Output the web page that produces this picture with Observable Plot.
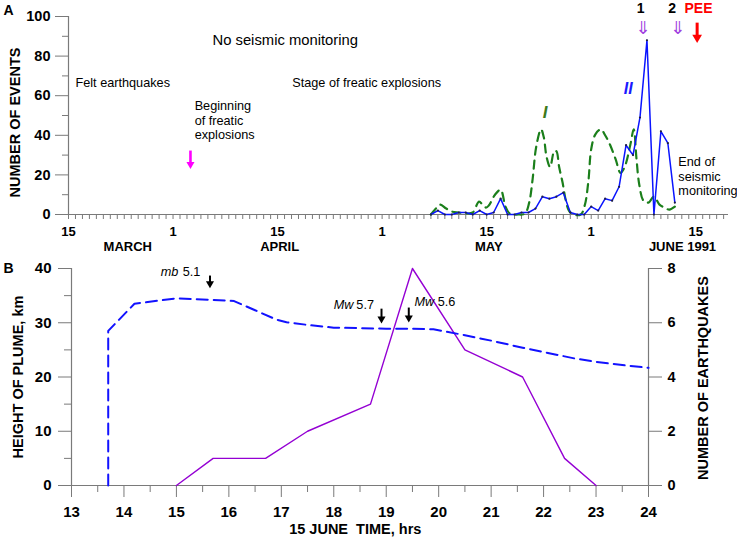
<!DOCTYPE html>
<html><head><meta charset="utf-8">
<script src="https://cdn.jsdelivr.net/npm/d3@7"></script>
<script src="https://cdn.jsdelivr.net/npm/@observablehq/plot@0.6"></script>
<style>
html,body{margin:0;padding:0;background:#fff;}
#chart{width:737px;height:538px;overflow:hidden;}
#chart svg{display:block;}
</style></head><body><div id="chart"></div>
<script>
const FONT = "'Liberation Sans', Arial, Helvetica, sans-serif";
const AX = "#7a7a7a";

// ===== Panel A data: x = days after 15 March 1991 (axis marked every 15 days) =====
const eventDays = [52,53,54,55,56,57,58,59,60,61,62,63,64,65,66,67,68,69,70,71,72,73,74,75,76,77,78,79,80,81,82,83,84,85,86,87];
const eventsII  = [0,2,0,0,1,1,0,2,0,1,8,0,0,1,1,3,9,8,9,11,1,0,0,4,2,8,7,14,35,30,49,88,0,42,36,6];
const curveIx = [52,52.6,53.3,54.2,55,56,57.2,58,58.9,59.4,59.9,60.3,61.2,62,62.7,63.3,64.5,65.5,66.1,66.6,67.1,67.8,68.2,68.6,69.1,69.7,70,70.4,70.9,71.3,71.8,72.5,73.5,74.1,74.6,75,75.6,76.4,77,77.6,78.5,79.2,79.8,80.6,81.1,81.5,81.9,82.5,83.2,84,84.8,85.5,86.2,87];
const curveIy = [0,2.5,5,3,1.5,1,0.5,1,6.5,5,3.5,4.5,10,12.5,4,0.5,0,0.5,6,18,34,43,39,29,24,32,32,24,16,8,2,0,0,5,17,33,40.5,43,40,36,28,21,24,35,43,28,15,7,6,9,5,3.5,2.5,4];
const tickPosA = [0,15,30,45,60,75,90];
const tickLblA = ["15","1","15","1","15","1","15"];
const monthLbl = ["MARCH","APRIL","MAY","JUNE 1991"];
const monthPos = [8.5,30.3,60.3,88.1];
const yMajorA = [0,20,40,60,80,100];
const yMinorA = [10,30,50,70,90];

// annotations panel A (x in days, y in events)
const noteTitle = [{x:31.1, y:87.9, t:"No seismic monitoring"}];
const notesA = [
  {x:1.0,  y:66.7, t:"Felt earthquakes"},
  {x:32.1, y:66.7, t:"Stage of freatic explosions"}
];
const blockA = [
  {x:18.1, y:58.0, t:"Beginning\nof freatic\nexplosions"},
  {x:87.5, y:29.6, t:"End of\nseismic\nmonitoring"}
];
const arrowMag = [{x:17.5, y1:32.3, y2:25.3}];
const arrowPEE = [{x:90.2, y1:96.9, y2:89.4}];
const dblArrows = [{x:82.4, y:94.2}, {x:87.4, y:94.2}];
const topLbls = [{x:82.1, y:104, t:"1", c:"#000"}, {x:86.6, y:104, t:"2", c:"#000"}, {x:90.4, y:104, t:"PEE", c:"#ff0000"}];

// ===== Panel B data =====
const plumeHr = [13.7,13.7,14.2,15.0,15.7,16.1,16.5,16.9,17.1,17.5,18.0,18.5,19.0,19.5,19.9,20.5,21.0,21.6,22.0,22.6,23.0,23.5,24.0];
const plumeKm = [0,28.5,33.5,34.5,34.2,34,32.3,30.6,30.1,29.6,29.1,29,28.9,28.9,28.8,27.7,26.7,25.4,24.6,23.4,22.8,22.2,21.7];
const quakeHr = [15,15.7,16.7,17.5,18.7,19.5,20.5,21.6,22.4,23];
const quakeN  = [0,1,1,2,3,8,5,4,1,0];
const hourMajor = [13,14,15,16,17,18,19,20,21,22,23,24];
const hourMinor = [13.5,14.5,15.5,16.5,17.5,18.5,19.5,20.5,21.5,22.5,23.5];
const kmMajor = [0,10,20,30,40];
const kmMinor = [5,15,25,35];
const eqTicks = [0,2,4,6,8];
const EQ_SCALE = 5; // 8 earthquakes on right axis = 40 km on left axis

const magNotes = [
  {it:"mb", num:"5.1", xi:14.70, xn:15.12, y:39.4},
  {it:"Mw", num:"5.7", xi:18.0,  xn:18.43, y:33.2},
  {it:"Mw", num:"5.6", xi:19.54, xn:19.98, y:33.9}
];
const arrowsB = [{x:15.64, y1:38.7, y2:37.2}, {x:18.91, y1:32.6, y2:30.7}, {x:19.43, y1:32.8, y2:30.9}];

const blueData = eventDays.map((d,i)=>({x:d, y:eventsII[i]}));
const greenData = curveIx.map((d,i)=>({x:d, y:curveIy[i]}));
const plumeData = plumeHr.map((h,i)=>({x:h, y:plumeKm[i]}));
const quakeData = quakeHr.map((h,i)=>({x:h, n:quakeN[i]}));
const lblMap = new Map(tickPosA.map((p,i)=>[p, tickLblA[i]]));

const plotA = Plot.plot({
  width: 737, height: 255,
  marginLeft: 68, marginRight: 9, marginTop: 16, marginBottom: 41,
  style: {fontFamily: FONT, background: "#fff", overflow: "visible"},
  x: {domain: [0, 94.7], label: null},
  y: {domain: [0, 100], label: null},
  marks: [
    Plot.axisY(yMinorA, {tickSize: 6, tickFormat: () => "", stroke: AX, label: null}),
    Plot.axisY(yMajorA, {tickSize: 13, tickPadding: 5, fontSize: 14.5, fontWeight: "bold", fill: "#000", stroke: AX, label: null}),
    Plot.axisX(d3.range(0, 95), {tickSize: 5, tickPadding: 7, tickFormat: d => lblMap.get(d) ?? "", fontSize: 13, fontWeight: "bold", fill: "#000", stroke: AX, label: null}),
    Plot.ruleX([0], {stroke: AX, strokeWidth: 1.2}),
    Plot.ruleY([0], {stroke: AX, strokeWidth: 1.2}),
    Plot.text(monthLbl, {x: (d,i) => monthPos[i], text: d => d, frameAnchor: "bottom", lineAnchor: "middle", dy: 32.6, fontSize: 13, fontWeight: "bold", fill: "#000"}),
    Plot.line(greenData, {x: "x", y: "y", stroke: "#1b7f1b", strokeWidth: 2.2, strokeDasharray: "8,6", curve: "catmull-rom"}),
    Plot.line(blueData, {x: "x", y: "y", stroke: "#0a14ff", strokeWidth: 1.5}),
    Plot.dot(blueData, {x: "x", y: "y", r: 1.1, fill: "#202040"}),
    Plot.text(noteTitle, {x: "x", y: "y", text: "t", fontSize: 14.8, textAnchor: "middle", fill: "#000"}),
    Plot.text(notesA, {x: "x", y: "y", text: "t", fontSize: 12.7, textAnchor: "start", fill: "#000"}),
    Plot.text(blockA, {x: "x", y: "y", text: "t", fontSize: 12.7, textAnchor: "start", lineAnchor: "top", lineHeight: 1.15, fill: "#000"}),
    Plot.link(arrowMag, {x1: "x", x2: "x", y1: "y1", y2: "y2", stroke: "#ff00ff", strokeWidth: 2.6}),
    Plot.dot(arrowMag, {x: "x", y: "y2", symbol: "triangle", rotate: 180, r: 3, fill: "#ff00ff"}),
    Plot.link(arrowPEE, {x1: "x", x2: "x", y1: "y1", y2: "y2", stroke: "#ff0000", strokeWidth: 3}),
    Plot.dot(arrowPEE, {x: "x", y: "y2", symbol: "triangle", rotate: 180, r: 3.6, fill: "#ff0000"}),
    Plot.text(dblArrows, {x: "x", y: "y", text: () => "\u21D3", fontSize: 18, fontFamily: "DejaVu Sans", fill: "#a040e0"}),
    Plot.text(topLbls, {x: "x", y: "y", text: "t", fill: "c", fontSize: 14, fontWeight: "bold"}),
    Plot.text(["II"], {x: 80.3, y: 63.6, text: d => d, fontSize: 16, fontWeight: "bold", fontStyle: "italic", fill: "#1a1aff"}),
    Plot.text(["I"], {x: 68.4, y: 51.5, text: d => d, fontSize: 17, fontWeight: "bold", fontStyle: "italic", fill: "#3d7a1c"}),
    Plot.text(["NUMBER OF EVENTS"], {text: d => d, frameAnchor: "left", textAnchor: "middle", lineAnchor: "middle", rotate: -90, dx: -53, dy: 7, fontSize: 14.5, fontWeight: "bold", fill: "#000"}),
    Plot.text(["A"], {text: d => d, frameAnchor: "top-left", textAnchor: "start", lineAnchor: "top", dx: -65, dy: -11, fontSize: 14, fontWeight: "bold", fill: "#000"})
  ]
});

const plotB = Plot.plot({
  width: 737, height: 283,
  marginLeft: 71, marginRight: 89, marginTop: 13, marginBottom: 53,
  style: {fontFamily: FONT, background: "#fff", overflow: "visible"},
  x: {domain: [13, 24], label: null},
  y: {domain: [0, 40], label: null},
  marks: [
    Plot.axisY(kmMinor, {tickSize: 7, tickFormat: () => "", stroke: AX, label: null}),
    Plot.axisY(kmMajor, {tickSize: 13, tickPadding: 7, fontSize: 15, fontWeight: "bold", fill: "#000", stroke: AX, label: null}),
    Plot.axisY(eqTicks.map(v => v * EQ_SCALE), {anchor: "right", tickSize: 13, tickPadding: 6, tickFormat: d => d / EQ_SCALE, fontSize: 14.5, fontWeight: "bold", fill: "#000", stroke: AX, label: null}),
    Plot.axisX(hourMinor, {tickSize: 7, tickFormat: () => "", stroke: AX, label: null}),
    Plot.axisX(hourMajor, {tickSize: 12, tickPadding: 9, fontSize: 15, fontWeight: "bold", fill: "#000", stroke: AX, label: null}),
    Plot.ruleX([13, 24], {stroke: AX, strokeWidth: 1.2}),
    Plot.ruleY([0], {stroke: AX, strokeWidth: 1.2}),
    Plot.line(quakeData, {x: "x", y: d => d.n * EQ_SCALE, stroke: "#9400d3", strokeWidth: 1.4}),
    Plot.line(plumeData, {x: "x", y: "y", stroke: "#1212ff", strokeWidth: 2, strokeDasharray: "11,6"}),
    Plot.text(magNotes, {x: "xi", y: "y", text: "it", textAnchor: "start", fontSize: 12.7, fontStyle: "italic", fill: "#000"}),
    Plot.text(magNotes, {x: "xn", y: "y", text: "num", textAnchor: "start", fontSize: 12.7, fill: "#000"}),
    Plot.link(arrowsB, {x1: "x", x2: "x", y1: "y1", y2: "y2", stroke: "#000", strokeWidth: 2}),
    Plot.dot(arrowsB, {x: "x", y: "y2", symbol: "triangle", rotate: 180, r: 3, fill: "#000"}),
    Plot.text(["HEIGHT OF PLUME, km"], {text: d => d, frameAnchor: "left", textAnchor: "middle", lineAnchor: "middle", rotate: -90, dx: -53, fontSize: 14.5, fontWeight: "bold", fill: "#000"}),
    Plot.text(["NUMBER OF EARTHQUAKES"], {text: d => d, frameAnchor: "right", textAnchor: "middle", lineAnchor: "middle", rotate: -90, dx: 55, dy: 1, fontSize: 14.5, fontWeight: "bold", fill: "#000"}),
    Plot.text(["15 JUNE\u00a0 TIME, hrs"], {text: d => d, x: 18.41, frameAnchor: "bottom", textAnchor: "middle", lineAnchor: "middle", dy: 43.5, fontSize: 14.5, fontWeight: "bold", fill: "#000"}),
    Plot.text(["B"], {text: d => d, frameAnchor: "top-left", textAnchor: "start", lineAnchor: "top", dx: -68, dy: -5, fontSize: 14, fontWeight: "bold", fill: "#000"})
  ]
});

const root = document.getElementById("chart");
root.appendChild(plotA);
root.appendChild(plotB);
</script></body></html>
